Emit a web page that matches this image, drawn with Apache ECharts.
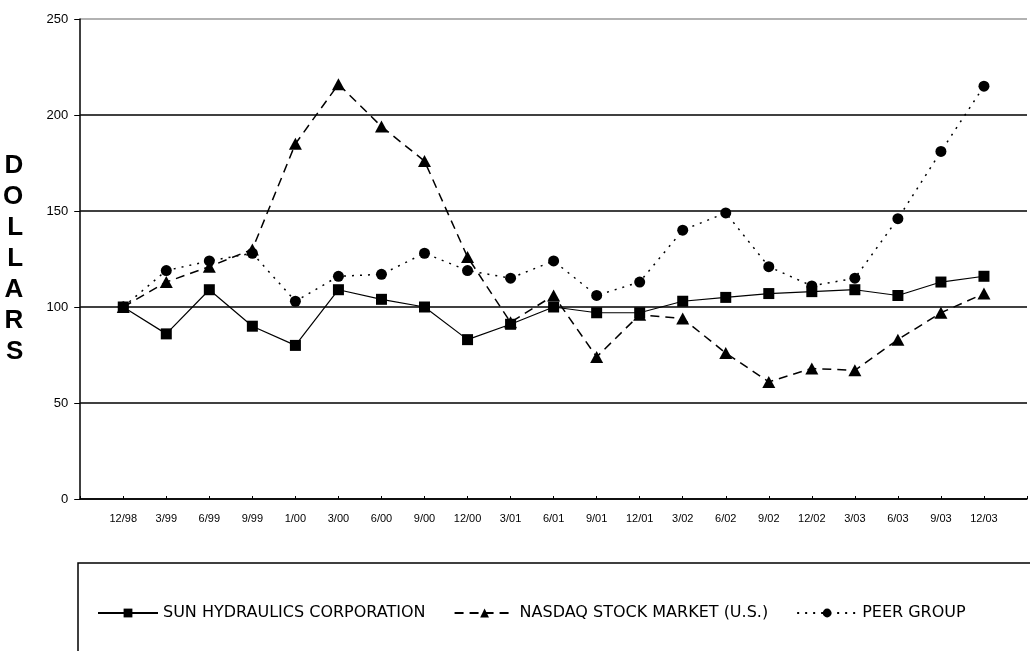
<!DOCTYPE html>
<html>
<head>
<meta charset="utf-8">
<script src="https://cdn.jsdelivr.net/npm/echarts@6/dist/echarts.min.js"></script>
<style>
  html, body { margin: 0; padding: 0; background: #fff; }
  #chart { width: 1030px; height: 651px; }
</style>
</head>
<body>
<div id="chart"></div>
<script>
// 季度标签
var quarters = ['12/98', '3/99', '6/99', '9/99', '1/00', '3/00', '6/00', '9/00', '12/00', '3/01', '6/01',
  '9/01', '12/01', '3/02', '6/02', '9/02', '12/02', '3/03', '6/03', '9/03', '12/03'];

// 三条线的数值
var sunValues = [100, 86, 109, 90, 80, 109, 104, 100, 83, 91, 100, 97, 97, 103, 105, 107, 108, 109, 106, 113, 116];
var nasdaqValues = [100, 113, 121, 130, 185, 216, 194, 176, 126, 92, 106, 74, 96, 94, 76, 61, 68, 67, 83, 97, 107];
var peerValues = [100, 119, 124, 128, 103, 116, 117, 128, 119, 115, 124, 106, 113, 140, 149, 121, 111, 115, 146, 181, 215];

var seriesNames = ['SUN HYDRAULICS CORPORATION', 'NASDAQ STOCK MARKET (U.S.)', 'PEER GROUP'];

var yTicks = [0, 50, 100, 150, 200, 250];

function toPoints(values) {
  var pts = [];
  for (var i = 0; i < values.length; i++) {
    pts.push([i, values[i]]);
  }
  return pts;
}

var myChart = echarts.init(document.getElementById('chart'));

var option = {
  backgroundColor: '#fff',
  animation: false,
  textStyle: { fontFamily: 'Liberation Sans, Arial, sans-serif', color: '#000' },
  grid: { left: 77, right: -8, top: 19, bottom: 152 },
  xAxis: {
    type: 'value',
    min: -1,
    max: 21,
    interval: 1,
    axisLine: { show: true, onZero: false, lineStyle: { color: '#000', width: 1.5 } },
    axisTick: { show: true, inside: true, length: 3, lineStyle: { color: '#000' } },
    axisLabel: {
      fontSize: 11,
      color: '#000',
      margin: 14,
      formatter: function (v) {
        return quarters[v] !== undefined ? quarters[v] : '';
      }
    },
    splitLine: { show: false }
  },
  yAxis: {
    type: 'value',
    min: yTicks[0],
    max: yTicks[yTicks.length - 1],
    interval: 50,
    name: 'D\nO\nL\nL\nA\nR\nS',
    nameLocation: 'middle',
    nameRotate: 0,
    nameGap: 57,
    nameTextStyle: { fontSize: 26, fontWeight: 'bold', lineHeight: 31, color: '#000', fontFamily: 'Liberation Sans, Arial, sans-serif' },
    axisLine: { show: true, onZero: false, lineStyle: { color: '#000', width: 1.5 } },
    axisTick: { show: true, inside: false, length: 6, lineStyle: { color: '#000', width: 1 } },
    axisLabel: { fontSize: 13, color: '#000', margin: 12 },
    splitLine: {
      show: true,
      lineStyle: { color: ['#000', '#000', '#000', '#000', '#000', '#999'], width: 1.5 }
    }
  },
  legend: {
    left: 92,
    top: 600,
    itemWidth: 60,
    itemHeight: 11,
    itemGap: 28,
    textStyle: { fontSize: 16, color: '#000', fontFamily: 'DejaVu Sans, sans-serif' },
    data: seriesNames
  },
  graphic: [{
    type: 'rect',
    shape: { x: 78, y: 563, width: 1000, height: 120 },
    style: { fill: 'none', stroke: '#000', lineWidth: 1.5 },
    silent: true
  }],
  series: [{
    name: seriesNames[0],
    type: 'line',
    data: toPoints(sunValues),
    symbol: 'rect',
    symbolSize: 11,
    itemStyle: { color: '#000' },
    lineStyle: { color: '#000', width: 1.2, type: 'solid' },
    z: 3
  }, {
    name: seriesNames[1],
    type: 'line',
    data: toPoints(nasdaqValues),
    symbol: 'triangle',
    symbolSize: [13, 12],
    itemStyle: { color: '#000' },
    lineStyle: { color: '#000', width: 1.5, type: [9, 6] },
    z: 4
  }, {
    name: seriesNames[2],
    type: 'line',
    data: toPoints(peerValues),
    symbol: 'circle',
    symbolSize: 11,
    itemStyle: { color: '#000' },
    lineStyle: { color: '#000', width: 1.5, type: [2, 6] },
    z: 5
  }]
};

myChart.setOption(option);
</script>
</body>
</html>
